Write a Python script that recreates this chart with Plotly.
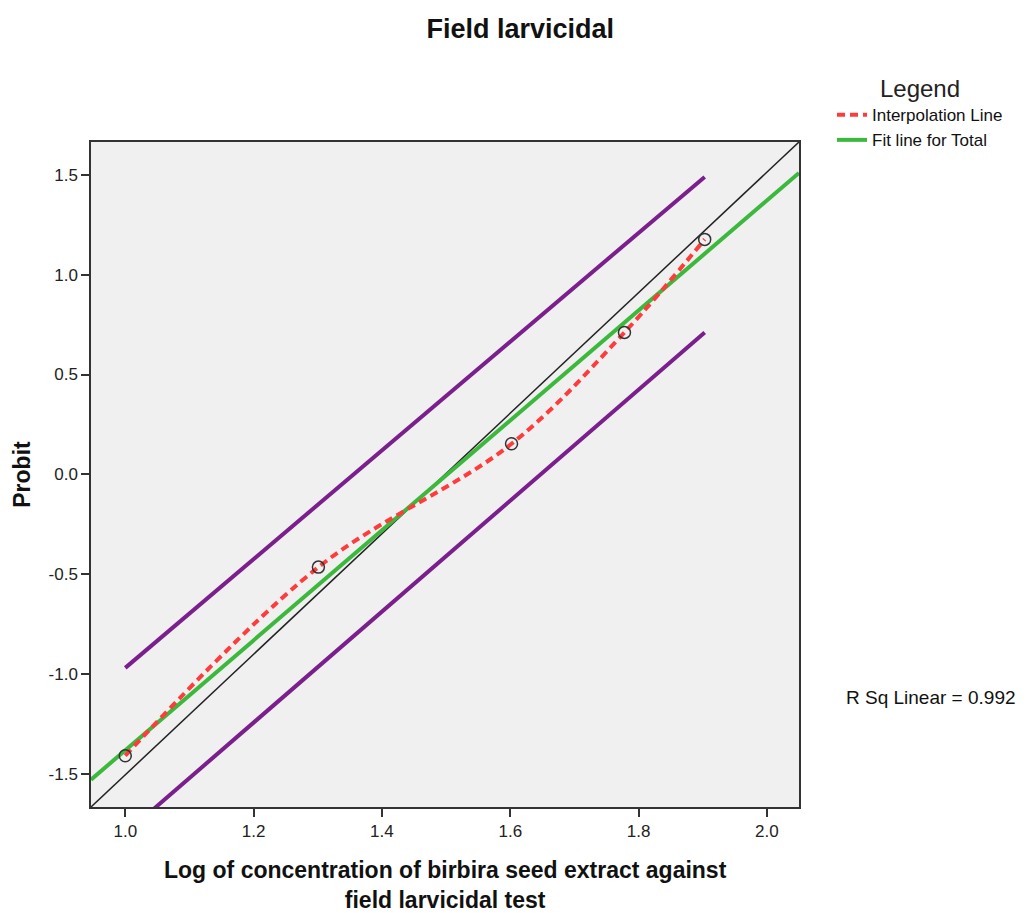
import plotly.graph_objects as go

# Data
log_conc = [1.0, 1.301, 1.602, 1.778, 1.903]
probit = [-1.41, -0.465, 0.153, 0.711, 1.177]

# Fit line for Total (endpoints read at axis limits)
fit_x = [0.9466, 2.05]
fit_y = [-1.53, 1.51]

# Reference diagonal (black)
ref_x = [0.9466, 2.05]
ref_y = [-1.667, 1.665]

# Purple interval lines
upper_x = [1.0, 1.903]
upper_y = [-0.97, 1.49]
lower_x = [1.0, 1.903]
lower_y = [-1.80, 0.71]

x_ticks = [1.0, 1.2, 1.4, 1.6, 1.8, 2.0]
y_ticks = [-1.5, -1.0, -0.5, 0.0, 0.5, 1.0, 1.5]

x_title_lines = ["Log of concentration of birbira seed extract against", "field larvicidal test"]

FONT = "Liberation Sans, Arial, sans-serif"

fig = go.Figure()
fig.add_trace(go.Scatter(x=upper_x, y=upper_y, mode="lines",
                         line=dict(color="#7a1f8c", width=4), showlegend=False, hoverinfo="skip"))
fig.add_trace(go.Scatter(x=lower_x, y=lower_y, mode="lines",
                         line=dict(color="#7a1f8c", width=4), showlegend=False, hoverinfo="skip"))
fig.add_trace(go.Scatter(x=ref_x, y=ref_y, mode="lines",
                         line=dict(color="#222222", width=1.5), showlegend=False, hoverinfo="skip"))
fig.add_trace(go.Scatter(x=fit_x, y=fit_y, mode="lines", name="Fit line for Total",
                         line=dict(color="#3cb83c", width=4)))
fig.add_trace(go.Scatter(x=log_conc, y=probit, mode="lines", name="Interpolation Line",
                         line=dict(color="#ff3b3b", width=4, dash="8px,5px", shape="spline", smoothing=1.0)))
fig.add_trace(go.Scatter(x=log_conc, y=probit, mode="markers", showlegend=False,
                         marker=dict(symbol="circle-open", size=12, color="#333333",
                                     line=dict(width=1.5, color="#333333"))))

PLOT_L, PLOT_R, PLOT_T, PLOT_B = 91, 799, 142, 807
W, H = 1026, 913

def px_to_paper_y(py):
    return (PLOT_B - py) / (PLOT_B - PLOT_T)

def px_to_paper_x(px):
    return (px - PLOT_L) / (PLOT_R - PLOT_L)

fig.update_layout(
    width=W, height=H,
    paper_bgcolor="white", plot_bgcolor="#f0f0f0",
    margin=dict(l=PLOT_L, r=W - PLOT_R, t=PLOT_T, b=H - PLOT_B),
    font=dict(family=FONT, color="#111111"),
    title=dict(text="<b>Field larvicidal</b>", x=0.507, xanchor="center", y=0.969, yanchor="middle",
               font=dict(size=27, family=FONT, color="#111111")),
    legend=dict(
        title=dict(text="Legend", side="top center", font=dict(size=24, family=FONT, color="#222222")),
        x=px_to_paper_x(832), xanchor="left", y=px_to_paper_y(66), yanchor="top",
        font=dict(size=17, family=FONT, color="#111111"),
        bgcolor="rgba(0,0,0,0)", traceorder="reversed",
        itemwidth=30, tracegroupgap=0,
    ),
    showlegend=True,
)

fig.update_xaxes(
    range=[0.9466, 2.05], tickvals=x_ticks, ticktext=[f"{v:.1f}" for v in x_ticks],
    showgrid=False, zeroline=False, showline=True, linecolor="#333333", linewidth=1.5, mirror=True,
    ticks="outside", ticklen=8, tickcolor="#333333", tickwidth=1.5,
    tickfont=dict(size=17, family=FONT, color="#222222"),
)
fig.update_yaxes(
    range=[-1.667, 1.665], tickvals=y_ticks, ticktext=[f"{v:.1f}" for v in y_ticks],
    showgrid=False, zeroline=False, showline=True, linecolor="#333333", linewidth=1.5, mirror=True,
    ticks="outside", ticklen=8, tickcolor="#333333", tickwidth=1.5,
    tickfont=dict(size=17, family=FONT, color="#222222"),
    title=dict(text="<b>Probit</b>", font=dict(size=23, family=FONT, color="#111111"), standoff=12),
)

# x-axis title (two lines in one text)
fig.add_annotation(text="<b>" + "<br>".join(x_title_lines) + "</b>", xref="paper", yref="paper",
                   x=0.5, y=px_to_paper_y(885), xanchor="center", yanchor="middle",
                   showarrow=False, font=dict(size=23, family=FONT, color="#111111"))

fig.add_annotation(text="R Sq Linear = 0.992", xref="paper", yref="paper",
                   x=px_to_paper_x(931), y=px_to_paper_y(697), xanchor="center", yanchor="middle",
                   showarrow=False, font=dict(size=19, family=FONT, color="#111111"))

fig.write_html("out.html")
